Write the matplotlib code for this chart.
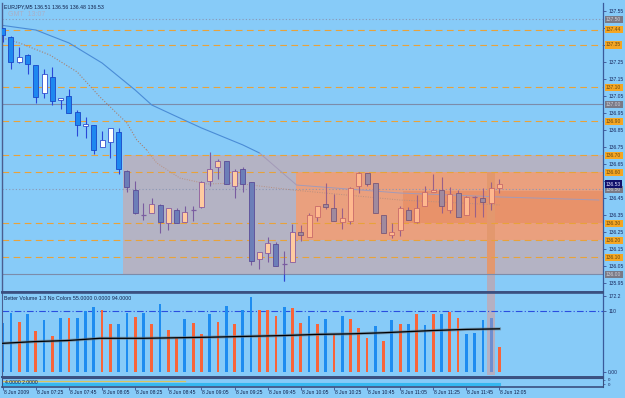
import matplotlib
matplotlib.use('Agg')
import matplotlib.pyplot as plt
from matplotlib.patches import Rectangle
import matplotlib.transforms as mtransforms

# ---------------- data ----------------
opens = [137.447, 137.398, 137.247, 137.290, 137.231, 137.068, 137.162, 137.024, 137.047, 136.956,
         136.871, 136.876, 136.747, 136.776, 136.835, 136.609, 136.496, 136.350, 136.359, 136.408,
         136.300, 136.378, 136.309, 136.376, 136.398, 136.549, 136.629, 136.666, 136.519, 136.618,
         136.541, 136.088, 136.124, 136.176, 136.062, 136.071, 136.251, 136.221, 136.339, 136.412,
         136.388, 136.308, 136.315, 136.519, 136.598, 136.539, 136.349, 136.231, 136.261, 136.378,
         136.309, 136.402, 136.486, 136.496, 136.378, 136.476, 136.349, 136.460, 136.447, 136.418,
         136.510]
highs = [137.450, 137.402, 137.339, 137.293, 137.231, 137.208, 137.218, 137.039, 137.090, 136.966,
         136.927, 136.876, 136.845, 136.859, 136.859, 136.613, 136.549, 136.418, 136.447, 136.412,
         136.388, 136.392, 136.402, 136.402, 136.551, 136.721, 136.678, 136.666, 136.618, 136.633,
         136.541, 136.129, 136.221, 136.192, 136.137, 136.296, 136.290, 136.359, 136.402, 136.539,
         136.471, 136.392, 136.515, 136.600, 136.598, 136.539, 136.349, 136.304, 136.404, 136.398,
         136.466, 136.519, 136.588, 136.574, 136.515, 136.496, 136.461, 136.462, 136.506, 136.545,
         136.560]
lows = [137.368, 137.206, 137.242, 137.178, 137.008, 137.035, 136.998, 136.971, 136.947, 136.815,
        136.800, 136.706, 136.747, 136.682, 136.590, 136.486, 136.355, 136.319, 136.359, 136.241,
        136.261, 136.300, 136.309, 136.315, 136.388, 136.521, 136.559, 136.529, 136.451, 136.486,
        136.055, 136.031, 136.074, 136.051, 135.960, 136.071, 136.196, 136.221, 136.315, 136.382,
        136.312, 136.266, 136.296, 136.480, 136.520, 136.359, 136.241, 136.212, 136.225, 136.319,
        136.300, 136.402, 136.486, 136.359, 136.359, 136.339, 136.349, 136.339, 136.339, 136.378,
        136.480]
closes = [137.408, 137.247, 137.276, 137.235, 137.045, 137.178, 137.018, 137.039, 136.947, 136.876,
          136.886, 136.729, 136.790, 136.859, 136.618, 136.512, 136.359, 136.345, 136.414, 136.309,
          136.388, 136.300, 136.368, 136.380, 136.541, 136.618, 136.668, 136.529, 136.609, 136.531,
          136.080, 136.129, 136.186, 136.051, 136.060, 136.247, 136.231, 136.349, 136.402, 136.398,
          136.315, 136.329, 136.506, 136.598, 136.531, 136.359, 136.241, 136.247, 136.388, 136.319,
          136.388, 136.486, 136.496, 136.402, 136.471, 136.339, 136.457, 136.455, 136.427, 136.510,
          136.530]

volumes = [88, 107, 90, 105, 75, 94, 65, 97, 97, 97,
           110, 118, 112, 86, 86, 107, 100, 107, 86, 123,
           76, 61, 96, 88, 69, 104, 90, 119, 87, 111,
           135, 112, 111, 101, 117, 115, 89, 101, 87, 96,
           68, 101, 96, 80, 62, 83, 56, 94, 86, 87,
           104, 84, 105, 104, 109, 98, 69, 70, 93, 97,
           46]
vol_types = "bbobobobobbboobbobobooboobobobbooobooboboboooboboboboboobbbo"
vol_types = vol_types + "o" if len(vol_types) < 61 else vol_types

vma_idx = [0, 3.7, 7.8, 11.75, 17, 25, 34, 38, 42, 46, 52, 56, 60]
vma_val = [52, 55, 57, 61, 61, 63, 66, 68, 69, 71, 75, 77, 78]

ma_slow_idx = [0, 4, 8, 12, 16, 18, 20.6, 24, 29, 31, 35.5, 48, 60, 72]
ma_slow_val = [137.464, 137.437, 137.361, 137.243, 137.084, 136.996, 136.937, 136.861,
               136.761, 136.714, 136.525, 136.478, 136.455, 136.437]
ma_fast_idx = [0, 2, 5.7, 9, 11.75, 15, 16.2, 17.4, 18.6, 21.4, 24.7, 28, 35, 48, 60]
ma_fast_val = [137.390, 137.361, 137.290, 137.190, 137.043, 136.890, 136.790, 136.731,
               136.655, 136.566, 136.531, 136.537, 136.496, 136.437, 136.408]

orange_levels = [137.44, 137.35, 137.10, 136.90, 136.70, 136.60, 136.30, 136.20, 136.10]
grey_solid_levels = [137.00, 136.00]
grey_dot_levels = [137.50, 136.50]
price_ticks = [137.55, 137.45, 137.35, 137.25, 137.15, 137.05, 136.95, 136.85, 136.75,
               136.65, 136.55, 136.45, 136.35, 136.25, 136.15, 136.05, 135.95]
hidden_ticks = [137.45, 137.35, 136.55]
current_price = 136.53

time_labels = ['8 Jun 2009', '8 Jun 07:25', '8 Jun 07:45', '8 Jun 08:05', '8 Jun 08:25',
               '8 Jun 08:45', '8 Jun 09:05', '8 Jun 09:25', '8 Jun 09:45', '8 Jun 10:05',
               '8 Jun 10:25', '8 Jun 10:45', '8 Jun 11:05', '8 Jun 11:25', '8 Jun 11:45',
               '8 Jun 12:05']

# rectangles (bar index, price)
grey_box = (14.5, 136.00, 136.70)
orange_box = (35.4, 136.20, 136.60)
orange_inner = (48.3, 136.30, 136.49)
stripe = (58.5, 59.46)

# ---------------- style ----------------
BG = '#87CBF8'
FONT = ['Liberation Sans Narrow', 'Liberation Sans', 'DejaVu Sans']
plt.rcParams['font.family'] = FONT
W, H = 625, 398
fig = plt.figure(figsize=(W / 100, H / 100), dpi=100, facecolor=BG)

def rect(x0, y0, x1, y1):
    return [x0 / W, 1 - y1 / H, (x1 - x0) / W, (y1 - y0) / H]

PX0, PXB = 2.7, 8.28          # pixel of bar 0, pixels per bar
def bx(px):
    return (px - PX0) / PXB
XL = (bx(2), bx(603.3))
P0, PY0, PPX = 137.0, 104.3, 170.0
def pp(y):
    return P0 + (PY0 - y) / PPX

N = len(opens)
idx = list(range(N))

# ---------------- main pane ----------------
ax = fig.add_axes(rect(2, 3, 603.3, 291.5))
ax.set_facecolor(BG)
ax.set_xlim(*XL)
ax.set_ylim(pp(291.5), pp(3))
right = XL[1]

ax.add_patch(Rectangle((grey_box[0], grey_box[1]), right - grey_box[0], grey_box[2] - grey_box[1],
                       fc='#B4B3C4', ec='none', zorder=1))
ax.add_patch(Rectangle((orange_box[0], orange_box[1]), right - orange_box[0], orange_box[2] - orange_box[1],
                       fc='#EAA07E', ec='none', zorder=1.1))
ax.add_patch(Rectangle((orange_inner[0], orange_inner[1]), right - orange_inner[0], orange_inner[2] - orange_inner[1],
                       fc='#E8926A', ec='none', zorder=1.2))
ylo = ax.get_ylim()[0]
ax.add_patch(Rectangle((stripe[0], ylo), stripe[1] - stripe[0], grey_box[1] - ylo,
                       fc='#B2ADBE', ec='none', zorder=1.3))
ax.add_patch(Rectangle((stripe[0], grey_box[1]), stripe[1] - stripe[0], orange_box[2] - grey_box[1],
                       fc='#E3986E', ec='none', zorder=1.3))

for lv in orange_levels:
    ax.axhline(lv, color='#E8A23A', lw=0.8, ls=(0, (6, 4)), zorder=2)
for lv in grey_solid_levels:
    ax.axhline(lv, color='#7C8CAA', lw=0.8, zorder=2)
for lv in grey_dot_levels:
    ax.axhline(lv, color='#8A96B4', lw=0.8, ls=(0, (1, 2)), zorder=2)

# moving averages
ax.plot(ma_slow_idx[:10], ma_slow_val[:10], color='#4A8CD6', lw=0.8, zorder=2.5)
ax.plot(ma_slow_idx[9:], ma_slow_val[9:], color='#A39AB8', lw=0.7, zorder=2.5)
ax.plot(ma_fast_idx[:8], ma_fast_val[:8], color='#A88070', lw=0.8, ls=(0, (1, 1.5)), zorder=2.5)
ax.plot(ma_fast_idx[7:], ma_fast_val[7:], color='#B89080', lw=0.7, ls=(0, (1, 1.5)), zorder=2.5)

BW = 0.6
for i in idx:
    o, h, l, c = opens[i], highs[i], lows[i], closes[i]
    if i < 15:
        wick, bull_fc, bull_ec, bear_fc, bear_ec = '#2A48D8', '#FFFFFF', '#3050D0', '#1E88F0', '#1848C8'
    elif i < 36:
        wick, bull_fc, bull_ec, bear_fc, bear_ec = '#7A5CA0', '#FFCBA0', '#8A5CA0', '#6C7EB8', '#5A4C98'
    else:
        wick, bull_fc, bull_ec, bear_fc, bear_ec = '#9A6088', '#FFB88E', '#C86A6A', '#A08A9E', '#7A5878'
    ax.vlines(i, l, h, color=wick, lw=0.8, zorder=3)
    if i == 34:
        ax.vlines(i, l, grey_box[1], color='#2A48D8', lw=0.8, zorder=3.1)
    bull = c >= o
    lo, hi = min(o, c), max(o, c)
    if hi - lo < 0.006:
        ax.hlines((o + c) / 2, i - BW / 2, i + BW / 2, color=wick, lw=0.9, zorder=3.2)
    else:
        ax.add_patch(Rectangle((i - BW / 2, lo), BW, hi - lo,
                               fc=bull_fc if bull else bear_fc,
                               ec=bull_ec if bull else bear_ec, lw=0.6, zorder=3.2))

ax.yaxis.tick_right()
ax.set_yticks(price_ticks)
ax.set_yticklabels(['' if p in hidden_ticks else f'{p:.2f}' for p in price_ticks])
ax.tick_params(axis='y', length=2, width=0.6, color='#3A4E90', labelsize=3.6,
               labelcolor='#1A2A60', pad=1.5)
ax.set_xticks([])
ax.spines['top'].set_visible(False)
ax.spines['left'].set_color('#4A5E90'); ax.spines['left'].set_linewidth(1.0)
ax.spines['right'].set_color('#3A5A9A'); ax.spines['right'].set_linewidth(0.9)
ax.spines['bottom'].set_color('#3A4E80'); ax.spines['bottom'].set_linewidth(1.4)

# price label boxes
tr = mtransforms.blended_transform_factory(fig.transFigure, ax.transData)
def plabel(p, fc, tc):
    ax.text(606 / W, p, f'{p:.2f}', transform=tr, fontsize=3.6, color=tc, va='center', ha='left',
            bbox=dict(boxstyle='square,pad=0.25', fc=fc, ec='none'), zorder=10, clip_on=False)
for lv in orange_levels:
    plabel(lv, '#F5A623', '#6A4A10')
for lv in grey_solid_levels + grey_dot_levels:
    plabel(lv, '#7A7A86', '#D0D0D8')
plabel(current_price, '#10106A', '#E0E0FF')

fig.text(4 / W, 1 - 6.5 / H, 'EURJPY,M5 136.51 136.56 136.48 136.53', fontsize=3.8,
         color='#10204A', va='center', ha='left')
fig.text(8 / W, 1 - 14.5 / H, 'GMT  13:07', fontsize=5, color='#A8B0C8', va='center', ha='left')

# ---------------- volume pane ----------------
ax2 = fig.add_axes(rect(2, 292.5, 603.3, 376.5))
ax2.set_facecolor(BG)
ax2.set_xlim(*XL)
ax2.set_ylim(-7.53, 143.2)
ax2.add_patch(Rectangle((stripe[0], -4.5), stripe[1] - stripe[0], 150,
                        fc='#B5B0C2', ec='none', zorder=1))
cols = ['#1E8CF0' if t == 'b' else '#F8643A' for t in vol_types[:N]]
cols[59] = '#6E8ED0'
ax2.bar(idx, volumes, width=0.33, color=cols, zorder=2)
ax2.axhline(110, color='#2A4EE0', lw=0.8, ls=(0, (6, 2, 1, 2)), zorder=1.5)
ax2.plot(vma_idx, vma_val, color='#6A7A8A', lw=2.2, alpha=0.6, zorder=2.8)
ax2.plot(vma_idx, vma_val, color='#000000', lw=0.9, zorder=3)
ax2.yaxis.tick_right()
ax2.set_yticks([136.9, 110, 1])
ax2.set_yticklabels(['172.2', '110', '0.00'])
ax2.tick_params(axis='y', length=2, width=0.6, color='#3A4E90', labelsize=3.6,
                labelcolor='#1A2A60', pad=1.5)
ax2.set_xticks([])
ax2.spines['top'].set_color('#3A5080'); ax2.spines['top'].set_linewidth(1.2)
ax2.spines['bottom'].set_color('#3A5080'); ax2.spines['bottom'].set_linewidth(1.4)
ax2.spines['left'].set_color('#4A5E90')
ax2.spines['right'].set_color('#3A5A9A'); ax2.spines['right'].set_linewidth(0.9)
fig.text(4 / W, 1 - 298.5 / H, 'Better Volume 1.3 No Colors 55.0000 0.0000 94.0000',
         fontsize=3.8, color='#10204A', va='center', ha='left')

# ---------------- small pane ----------------
ax3 = fig.add_axes(rect(2, 377.5, 603.3, 386.8))
ax3.set_facecolor(BG)
ax3.set_xlim(*XL)
ax3.set_ylim(0, 1)
ax3.plot([0, 22], [0.66, 0.66], color='#D8C460', lw=0.9)
ax3.plot([0, 60], [0.34, 0.34], color='#36B8F0', lw=2.2)
ax3.add_patch(Rectangle((59, 0.18), 1.0, 0.2, fc='#F08040', ec='none'))
ax3.text(0.3, 0.48, '4.0000 2.0000', fontsize=3.6, color='#10204A', va='center', ha='left')
ax3.yaxis.tick_right()
ax3.set_yticks([0.75, 0.25])
ax3.set_yticklabels(['0', '0'])
ax3.tick_params(axis='y', length=1.5, width=0.5, color='#3A4E90', labelsize=3.2,
                labelcolor='#1A2A60', pad=1.5)
tick_idx = list(range(0, N, 4))
ax3.set_xticks(tick_idx)
ax3.set_xticklabels([])
ax3.tick_params(axis='x', length=2, width=0.6, color='#3A4E90', direction='out')
for s in ['top', 'left', 'right', 'bottom']:
    ax3.spines[s].set_color('#3A5080')
ax3.spines['bottom'].set_linewidth(1.2)
trx = mtransforms.blended_transform_factory(ax3.transData, fig.transFigure)
for i, lab in zip(tick_idx, time_labels):
    ax3.text(i + 0.12, 1 - 392.7 / H, lab, transform=trx, fontsize=3.6, color='#10204A',
             va='center', ha='left', clip_on=False)

fig.savefig('out.png', dpi=100, facecolor=BG)
